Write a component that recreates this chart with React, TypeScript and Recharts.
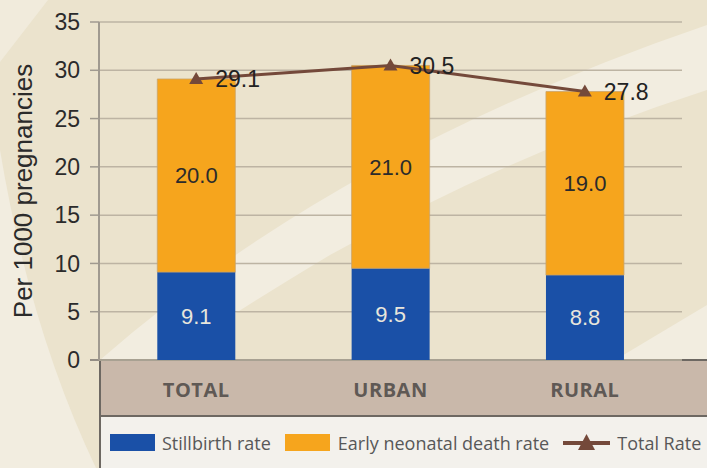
import {
  Bar,
  CartesianGrid,
  ComposedChart,
  LabelList,
  Legend,
  Line,
  XAxis,
  YAxis,
} from "recharts";

const categories = ["TOTAL", "URBAN", "RURAL"];
const stillbirth = [9.1, 9.5, 8.8];
const earlyNeonatal = [20.0, 21.0, 19.0];
const totalRate = [29.1, 30.5, 27.8];
const yTicks = [0, 5, 10, 15, 20, 25, 30, 35];

const datos = categories.map((name, i) => ({
  name,
  stillbirth: stillbirth[i],
  early: earlyNeonatal[i],
  total: totalRate[i],
}));

const BLUE = "#1a50a7";
const ORANGE = "#f6a51d";
const BROWN = "#74493a";
const DARK = "#6d6862";

function Fondo() {
  return (
    <svg width={707} height={468} style={{ position: "absolute", left: 0, top: 0 }}>
      <rect width={707} height={468} fill="#ebe3cd" />
      <path d="M0,0 L48,0 L0,62 Z" fill="#f1ebdc" />
      <path d="M0,150 Q30,330 96,468 L0,468 Z" fill="#f2ede0" />
      <path d="M100,360 Q340,150 707,25 L707,90 Q520,150 330,255 Q230,315 165,360 Z" fill="#f2ede0" />
      <path d="M615,360 L707,305 L707,360 Z" fill="#f2ede0" />
      <rect x={99} y={360} width={608} height={55} fill="#c9b8aa" />
      <line x1={90} y1={360} x2={707} y2={360} stroke={DARK} strokeWidth={2} />
      <line x1={100} y1={360} x2={100} y2={468} stroke={DARK} strokeWidth={2} />
    </svg>
  );
}

function TickX({ x, y, payload }: { x?: number; y?: number; payload?: { value: string } }) {
  return (
    <text
      x={x}
      y={(y ?? 0) + 29}
      textAnchor="middle"
      dominantBaseline="central"
      fill="#5f5955"
      fontFamily="'Open Sans', sans-serif"
      fontWeight={700}
      fontSize={20}
      letterSpacing={0.5}
    >
      {payload?.value}
    </text>
  );
}

function Triangulo({ cx, cy }: { cx?: number; cy?: number }) {
  if (cx == null || cy == null) return null;
  return <path d={`M${cx},${cy - 7} L${cx + 7},${cy + 5} L${cx - 7},${cy + 5} Z`} fill={BROWN} />;
}

function Leyenda() {
  const texto = { color: "#585858", fontSize: 18, fontFamily: "'Open Sans', sans-serif", whiteSpace: "nowrap" as const };
  return (
    <div style={{ position: "relative", width: 707, height: 53 }}>
      <div style={{ position: "absolute", left: 99, right: 0, top: 0, height: 2, background: DARK }} />
      <div
        style={{
          position: "absolute",
          left: 99,
          right: 0,
          top: 2,
          bottom: 0,
          background: "#f3f1ec",
          borderLeft: `2px solid ${DARK}`,
          display: "flex",
          alignItems: "center",
          paddingLeft: 9,
        }}
      >
        <span style={{ width: 45, height: 17, background: BLUE, marginRight: 7 }} />
        <span style={texto}>Stillbirth rate</span>
        <span style={{ width: 45, height: 17, background: ORANGE, marginLeft: 14, marginRight: 8 }} />
        <span style={texto}>Early neonatal death rate</span>
        <svg width={47} height={20} style={{ marginLeft: 14, marginRight: 7 }}>
          <line x1={0} y1={10} x2={47} y2={10} stroke={BROWN} strokeWidth={4} />
          <path d="M23.5,1 L32,17 L15,17 Z" fill={BROWN} />
        </svg>
        <span style={texto}>Total Rate</span>
      </div>
    </div>
  );
}

export default function App() {
  return (
    <div style={{ position: "absolute", left: 0, top: 0, width: 707, height: 468, overflow: "hidden" }}>
      <Fondo />
      <div style={{ position: "absolute", left: 0, top: 0 }}>
        <ComposedChart
          width={707}
          height={468}
          data={datos}
          margin={{ top: 22, right: 25, left: 0, bottom: 0 }}
          barCategoryGap="30%"
        >
          <CartesianGrid vertical={false} stroke="#bdb4a3" strokeWidth={1.5} />
          <XAxis
            dataKey="name"
            height={55}
            axisLine={false}
            tickLine={false}
            tickSize={0}
            tickMargin={0}
            tick={<TickX />}
          />
          <YAxis
            width={99}
            domain={[0, 35]}
            ticks={yTicks}
            interval={0}
            tickSize={9}
            tickMargin={10}
            tickLine={{ stroke: "#a09a90", strokeWidth: 1.5 }}
            axisLine={{ stroke: "#a09a90", strokeWidth: 2 }}
            tick={{ fill: "#2b2b2b", fontSize: 23, fontFamily: "'Liberation Sans', Arial, sans-serif" }}
            label={({ viewBox }: { viewBox?: { x: number; y: number; height: number } }) => {
              const cy = (viewBox?.y ?? 0) + (viewBox?.height ?? 0) / 2;
              return (
                <text
                  x={23}
                  y={cy}
                  transform={`rotate(-90 23 ${cy})`}
                  textAnchor="middle"
                  dominantBaseline="central"
                  fill="#2b2b2b"
                  fontSize={26}
                  fontFamily="'Liberation Sans', Arial, sans-serif"
                >
                  Per 1000 pregnancies
                </text>
              );
            }}
          />
          <YAxis
            yAxisId="marco"
            orientation="right"
            width={0}
            domain={[0, 35]}
            tick={false}
            tickLine={false}
            axisLine={{ stroke: "#a09a90", strokeWidth: 2 }}
          />
          <Bar dataKey="stillbirth" stackId="a" fill={BLUE} isAnimationActive={false}>
            <LabelList
              dataKey="stillbirth"
              position="center"
              formatter={(v: number) => v.toFixed(1)}
              fill="#e8e6dc"
              fontSize={22}
              fontFamily="'Liberation Sans', Arial, sans-serif"
            />
          </Bar>
          <Bar dataKey="early" stackId="a" fill={ORANGE} stroke="#c9a36a" strokeWidth={0.8} isAnimationActive={false}>
            <LabelList
              dataKey="early"
              position="center"
              formatter={(v: number) => v.toFixed(1)}
              fill="#2b2b2b"
              fontSize={22}
              fontFamily="'Liberation Sans', Arial, sans-serif"
            />
          </Bar>
          <Line
            dataKey="total"
            stroke={BROWN}
            strokeWidth={3}
            dot={<Triangulo />}
            activeDot={false}
            isAnimationActive={false}
          >
            <LabelList
              dataKey="total"
              position="right"
              offset={19}
              formatter={(v: number) => v.toFixed(1)}
              fill="#222"
              fontSize={23}
              fontFamily="'Liberation Sans', Arial, sans-serif"
            />
          </Line>
          <Legend verticalAlign="bottom" align="left" wrapperStyle={{ left: 0, bottom: 0, width: 707 }} content={<Leyenda />} />
        </ComposedChart>
      </div>
    </div>
  );
}
